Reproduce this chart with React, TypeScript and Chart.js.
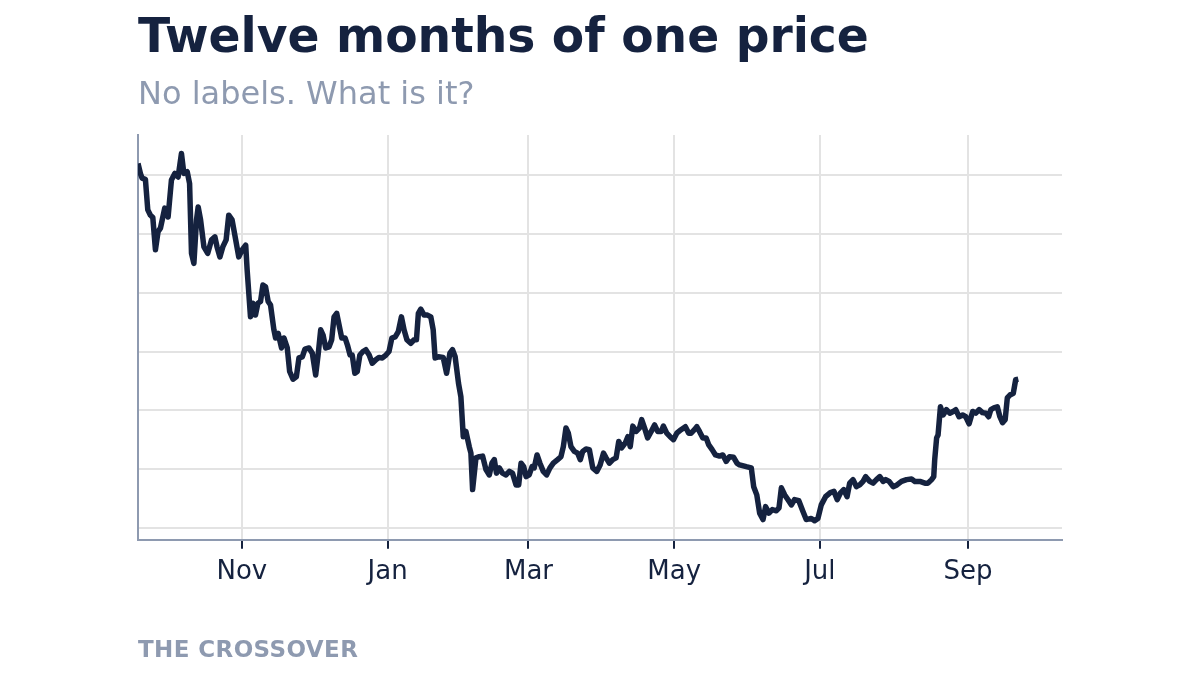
import { useEffect, useRef } from 'react';
import Chart from 'chart.js/auto';

const NAVY = '#15223f';
const SLATE = '#8e9ab0';
const GRID = '#e3e3e3';

// days counted from 1 Nov
const days = [
  -43.5, -42.5, -41.8, -40.4, -39.4, -38.3, -37.3, -36.2, -35.1, -34.1,
  -32.3, -30.9, -29.5, -28.1, -26.7, -25.3, -24.3, -22.9, -21.9, -21.1,
  -20.1, -19.0, -18.3, -17.3, -15.9, -14.3, -12.7, -11.3, -10.4, -9.2,
  -8.0, -6.6, -5.5, -4.1, -2.6, -1.3, 0.1, 1.6,
  2.2, 3.6, 4.6, 5.7, 6.7, 7.8, 8.8, 9.9, 11.0, 12.0, 13.4, 14.1, 15.2, 16.6, 17.6,
  19.0, 20.0, 21.4, 22.8, 23.9, 25.3, 26.4, 28.1, 29.5, 30.9, 32.0, 33.0, 34.0, 35.1,
  36.5, 37.6, 38.6, 39.7, 40.7, 41.8, 43.2, 44.2, 45.3, 46.2, 47.3, 48.3, 49.4, 50.7,
  51.9, 53.3, 54.6, 56.1, 57.4, 58.8, 60.3, 61.6, 62.8, 64.2, 65.5, 66.8, 67.9, 69.1,
  70.7, 72.1, 73.1,
  73.9, 74.9, 76.3, 77.7, 79.1, 80.1, 80.9, 82.3, 84.3, 85.7, 87.1, 88.2, 89.3, 90.7,
  91.7, 92.7, 93.8, 95.2, 95.9, 96.6, 98.0, 99.4, 100.8, 102.2, 103.6, 104.7, 105.7,
  106.6, 107.8, 109.1, 110.6, 112.0, 113.3, 114.8, 115.9, 116.9, 118.0, 119.0, 120.3,
  121.5, 122.4, 123.6, 124.8, 126.2, 127.6, 129.0, 130.4, 132.2, 133.6, 134.6, 135.7,
  136.7, 137.8, 139.2, 140.6, 141.7, 142.7, 144.1,
  145.5, 146.9, 148.6, 150.0, 151.4, 152.5, 153.9, 155.3, 156.7, 157.8, 159.0, 160.5,
  161.6, 162.6, 163.7, 165.1, 166.5, 167.4, 168.6, 169.9, 171.4, 172.8, 174.1, 175.6,
  176.5, 177.9, 179.3, 180.7, 182.1, 183.9, 185.7, 187.1, 188.1, 189.5, 190.5, 191.6,
  193.0, 194.4, 195.5, 196.9, 198.3, 200.0, 201.4, 202.8, 204.2, 205.9, 207.3,
  208.4, 211.2, 213.3, 214.3, 215.6, 216.8, 218.2, 219.3, 220.7, 222.1, 223.8, 224.9,
  225.9, 227.3, 228.6, 230.1, 231.4, 233.2, 234.9, 236.3, 238.4, 239.8, 241.2, 242.6,
  244.4, 246.4, 247.9, 249.3, 250.6, 252.0, 253.4, 254.5, 255.9, 257.3, 258.7, 260.1,
  261.2, 262.9, 264.3, 265.7, 267.1, 268.5, 269.6, 271.0, 272.7, 274.3, 276.2, 278.3,
  280.4, 281.8, 283.9, 286.0, 287.3, 288.8, 289.7,
  290.1, 290.9, 291.5, 292.5, 293.6, 295.0, 296.4, 297.8, 298.9, 300.3, 301.8, 303.1,
  304.5, 306.0, 307.3, 308.7, 310.1, 311.5, 312.7, 313.6, 314.9, 316.3, 317.4, 318.5,
  319.6, 320.5, 321.6, 323.0, 324.0, 325.1,
];

const prices = [
  102.0, 100.3, 99.5, 99.3, 94.1, 93.2, 92.8, 87.3, 90.4, 91.0,
  94.4, 92.9, 99.2, 100.3, 99.7, 103.7, 100.3, 100.6, 98.6, 86.7,
  85.0, 92.4, 94.6, 92.4, 87.8, 86.7, 89.0, 89.5, 87.8, 86.1,
  87.8, 89.0, 93.2, 92.4, 89.0, 86.1, 87.3, 88.1,
  83.9, 75.9, 78.2, 76.2, 78.2, 78.5, 81.3, 81.0, 78.5, 77.9, 73.7, 72.3, 73.1, 70.6, 72.3,
  70.6, 66.6, 65.3, 65.7, 68.9, 69.1, 70.4, 70.6, 69.7, 66.0, 69.7, 73.7, 72.8, 70.6,
  70.8, 72.0, 75.9, 76.5, 74.5, 72.3, 72.3, 71.1, 69.4, 69.4, 66.3, 66.6, 69.4, 70.0,
  70.3, 69.4, 68.0, 68.6, 69.0, 68.9, 69.4, 70.0, 72.3, 72.5, 73.4, 75.9, 73.7, 72.0,
  71.4, 72.0, 72.0,
  76.5, 77.2, 76.2, 76.2, 75.9, 73.7, 68.9, 69.1, 69.0, 66.3, 69.7, 70.3, 69.1, 64.6,
  62.3, 55.5, 56.4, 53.8, 52.7, 46.5, 51.9, 52.1, 52.2, 49.9, 49.0, 51.0, 51.6,
  49.3, 50.2, 49.3, 49.0, 49.6, 49.3, 47.3, 47.3, 51.0, 50.4, 48.7, 49.0,
  50.4, 50.2, 52.4, 51.0, 49.6, 49.0, 50.2, 51.0, 51.6, 52.1, 53.8, 57.0,
  56.1, 53.8, 53.0, 52.7, 51.6, 53.0, 53.4,
  53.3, 50.2, 49.6, 50.7, 52.7, 51.9, 51.0, 51.6, 51.9, 54.7, 53.6, 54.4,
  55.5, 53.8, 57.3, 56.4, 57.0, 58.4, 57.0, 55.3, 56.4, 57.5, 56.4, 56.4,
  57.3, 56.1, 55.5, 55.0, 56.1, 56.7, 57.2, 56.1, 56.1, 56.7, 57.2, 56.4,
  55.3, 55.3, 54.1, 53.3, 52.4, 52.2, 52.4, 51.3, 52.1, 52.0, 51.0,
  50.7, 50.4, 50.2, 47.0, 45.6, 42.5, 41.4, 43.6, 42.5, 43.1, 42.9, 43.4,
  46.8, 45.6, 44.8, 43.9, 44.8, 44.6, 42.8, 41.4, 41.6, 41.2, 41.6, 43.9,
  45.3, 46.0, 46.2, 44.8, 45.9, 46.5, 45.3, 47.6, 48.2, 47.0, 47.3, 47.9,
  48.7, 47.9, 47.6, 48.2, 48.7, 47.9, 48.2, 47.9, 47.0, 47.3, 47.9, 48.2,
  48.3, 47.9, 47.9, 47.6, 47.6, 48.2, 48.7,
  51.6, 55.3, 55.8, 60.6, 59.2, 60.1, 59.5, 59.8, 60.1, 58.9, 59.2, 58.9,
  57.7, 59.8, 59.5, 60.1, 59.6, 59.5, 58.9, 60.1, 60.4, 60.6, 58.9, 57.9,
  58.4, 62.1, 62.6, 62.9, 65.2, 65.3,
];

const monthTicks = [0, 61, 120, 181, 242, 304];
const monthLabels = ['Nov', 'Jan', 'Mar', 'May', 'Jul', 'Sep'];
const priceGrid = [40, 50, 60, 70, 80, 90, 100];

const FONT = '"DejaVu Sans", sans-serif';

const App = () => {
  const chartRef = useRef<HTMLCanvasElement>(null);
  const chartInstance = useRef<Chart | null>(null);

  useEffect(() => {
    if (!chartRef.current) return;
    const ctx = chartRef.current.getContext('2d');
    if (!ctx) return;

    if (chartInstance.current) {
      chartInstance.current.destroy();
    }

    chartInstance.current = new Chart(ctx, {
      type: 'line',
      data: {
        datasets: [
          {
            data: days.map((d, i) => ({ x: d, y: prices[i] })),
            borderColor: NAVY,
            borderWidth: 5.5,
            borderJoinStyle: 'round',
            pointRadius: 0,
            tension: 0,
            fill: false,
          },
        ],
      },
      options: {
        animation: false,
        responsive: true,
        maintainAspectRatio: false,
        layout: { padding: { left: 138, right: 138, top: 135, bottom: 79 } },
        plugins: {
          legend: { display: false },
          tooltip: { enabled: false },
        },
        scales: {
          x: {
            type: 'linear',
            min: days[0],
            max: 343.4,
            afterBuildTicks: (scale) => {
              scale.ticks = monthTicks.map((v) => ({ value: v }));
            },
            ticks: {
              autoSkip: false,
              maxRotation: 0,
              padding: 8,
              color: NAVY,
              font: { family: FONT, size: 26 },
              callback: (value) => monthLabels[monthTicks.indexOf(Number(value))] ?? '',
            },
            grid: {
              color: GRID,
              lineWidth: 2,
              tickColor: NAVY,
              tickLength: 9,
              tickWidth: 2,
            },
            border: { color: SLATE, width: 2 },
          },
          y: {
            min: 37.96,
            max: 106.84,
            afterBuildTicks: (scale) => {
              scale.ticks = priceGrid.map((v) => ({ value: v }));
            },
            ticks: { display: false },
            grid: { color: GRID, lineWidth: 2, drawTicks: false },
            border: { color: SLATE, width: 2 },
          },
        },
      },
    });

    return () => {
      if (chartInstance.current) {
        chartInstance.current.destroy();
        chartInstance.current = null;
      }
    };
  }, []);

  return (
    <div
      style={{
        position: 'absolute',
        left: 0,
        top: 0,
        width: 1200,
        height: 675,
        background: '#ffffff',
        fontFamily: FONT,
      }}
    >
      <div style={{ position: 'absolute', left: 0, top: 0, width: 1200, height: 675 }}>
        <canvas ref={chartRef} />
      </div>
      <div
        style={{
          position: 'absolute',
          left: 138,
          top: 12,
          fontSize: 47.2,
          fontWeight: 700,
          lineHeight: 1,
          color: NAVY,
          whiteSpace: 'nowrap',
        }}
      >
        Twelve months of one price
      </div>
      <div
        style={{
          position: 'absolute',
          left: 138,
          top: 77,
          fontSize: 32,
          lineHeight: 1,
          color: SLATE,
          whiteSpace: 'nowrap',
        }}
      >
        No labels. What is it?
      </div>
      <div
        style={{
          position: 'absolute',
          left: 138,
          top: 638,
          fontSize: 23,
          fontWeight: 700,
          lineHeight: 1,
          letterSpacing: 0.4,
          color: SLATE,
          whiteSpace: 'nowrap',
        }}
      >
        THE CROSSOVER
      </div>
    </div>
  );
};

export default App;
